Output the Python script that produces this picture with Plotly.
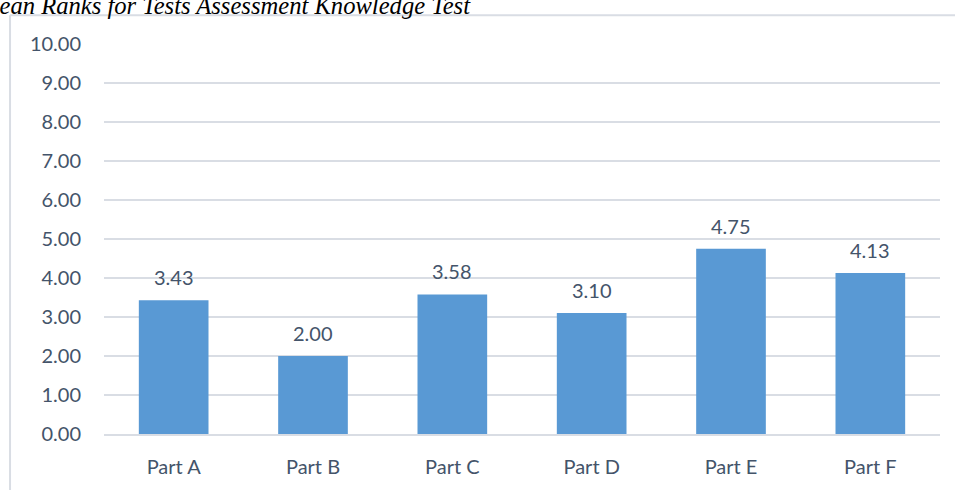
import plotly.graph_objects as go

# Mean rank per part of the knowledge test
parts = ["Part A", "Part B", "Part C", "Part D", "Part E", "Part F"]
mean_ranks = [3.43, 2.00, 3.58, 3.10, 4.75, 4.13]
y_ticks = [0, 1, 2, 3, 4, 5, 6, 7, 8, 9, 10]
title_text = "Mean Ranks for Tests Assessment Knowledge Test"

TEXT = "#44546a"
GRID = "#d9dde4"
FONT = "Lato, 'Open Sans', sans-serif"

fig = go.Figure()
fig.add_trace(go.Bar(
    x=parts,
    y=mean_ranks,
    marker=dict(color="#5999d4", line=dict(width=0)),
    hoverinfo="x+y",
))

# value labels sitting above each bar
for p, v in zip(parts, mean_ranks):
    fig.add_annotation(
        x=p, y=v, text=f"{v:.2f}", showarrow=False,
        yanchor="bottom", yshift=9,
        font=dict(family=FONT, size=20, color=TEXT),
    )

# caption above the chart frame
fig.add_annotation(
    xref="paper", yref="paper", x=0.441, y=1.06,
    xanchor="right", yanchor="bottom", showarrow=False,
    text=f"<i>{title_text}</i>",
    font=dict(family="'Liberation Serif', 'Times New Roman', serif", size=24.6, color="#000000"),
)

# chart frame (left and top edges)
fig.add_shape(type="line", xref="paper", yref="paper",
              x0=-0.1124, x1=-0.1124, y0=1.074, y1=-0.2,
              line=dict(color=GRID, width=2))
fig.add_shape(type="line", xref="paper", yref="paper",
              x0=-0.1124, x1=1.1, y0=1.074, y1=1.074,
              line=dict(color=GRID, width=2))

fig.update_layout(
    width=955, height=490,
    margin=dict(l=104, r=15, t=44, b=54),
    paper_bgcolor="white", plot_bgcolor="white",
    bargap=0.5,
    showlegend=False,
    font=dict(family=FONT, size=20, color=TEXT),
)
fig.update_yaxes(
    range=[0, 10], tickvals=y_ticks,
    ticktext=[f"{t:.2f}" for t in y_ticks],
    showgrid=True, gridcolor=GRID, gridwidth=1.5,
    zeroline=False, showline=False, ticks="",
    ticklabelstandoff=22,
    tickfont=dict(family=FONT, size=20, color=TEXT),
)
fig.update_xaxes(
    showgrid=False, showline=True, linecolor=GRID, linewidth=1.5,
    ticks="", ticklabelstandoff=14,
    tickfont=dict(family=FONT, size=20, color=TEXT),
)

fig.write_html("out.html")
